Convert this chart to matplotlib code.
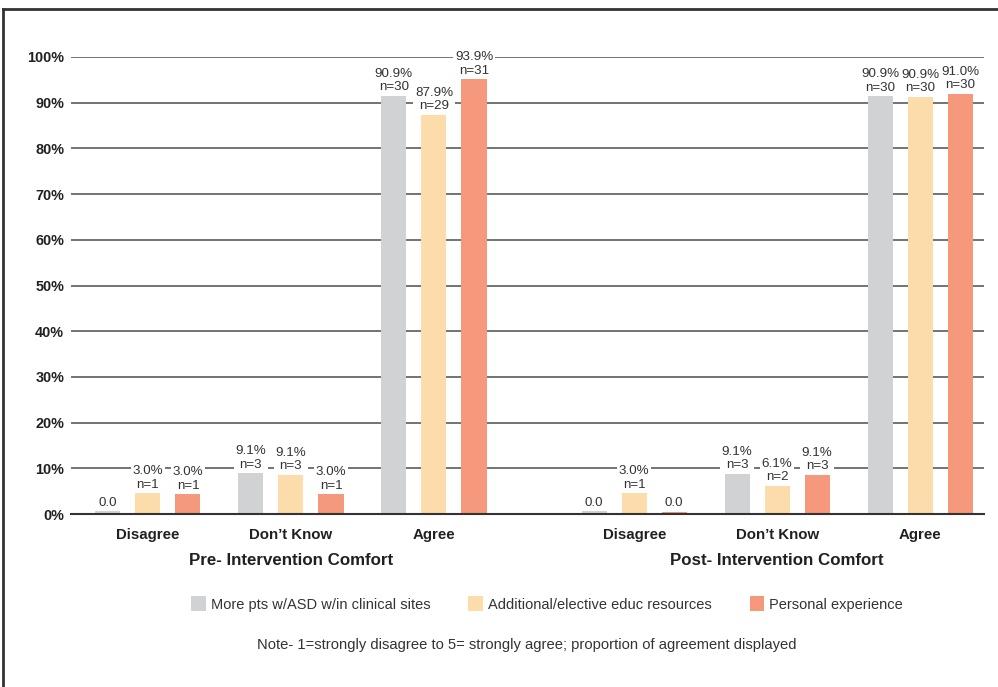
import matplotlib
matplotlib.use("Agg")
import matplotlib.pyplot as plt
from matplotlib.patches import Patch
from matplotlib.lines import Line2D

plt.rcParams['font.family'] = ['Liberation Sans', 'DejaVu Sans']

# ---- data ----
categories = ["Disagree", "Don\u2019t Know", "Agree"]
groups = ["Pre- Intervention Comfort", "Post- Intervention Comfort"]
series = ["More pts w/ASD w/in clinical sites", "Additional/elective educ resources", "Personal experience"]
colors = ["#D1D2D4", "#FDDCAB", "#F5987B"]

pre_gray = [0.6, 8.9, 91.5]
pre_peach = [4.5, 8.6, 87.3]
pre_salmon = [4.3, 4.3, 95.1]
post_gray = [0.6, 8.8, 91.4]
post_peach = [4.5, 6.2, 91.3]
post_salmon = [0.5, 8.6, 91.9]

pre_gray_lbl = ["0.0", "9.1%\nn=3", "90.9%\nn=30"]
pre_peach_lbl = ["3.0%\nn=1", "9.1%\nn=3", "87.9%\nn=29"]
pre_salmon_lbl = ["3.0%\nn=1", "3.0%\nn=1", "93.9%\nn=31"]
post_gray_lbl = ["0.0", "9.1%\nn=3", "90.9%\nn=30"]
post_peach_lbl = ["3.0%\nn=1", "6.1%\nn=2", "90.9%\nn=30"]
post_salmon_lbl = ["0.0", "9.1%\nn=3", "91.0%\nn=30"]

yticks = [0, 10, 20, 30, 40, 50, 60, 70, 80, 90, 100]
ytick_labels = [f"{t}%" for t in yticks]

W, H = 998, 687
fig = plt.figure(figsize=(W / 100, H / 100), dpi=100)

def px(x0, y0, x1, y1):
    return [x0 / W, 1 - y1 / H, (x1 - x0) / W, (y1 - y0) / H]

ax = fig.add_axes(px(71, 57, 984, 514))

group_pos = [[0, 1, 2], [3.4, 4.4, 5.4]]
offset = 0.28
width = 0.175
heights = [[pre_gray, pre_peach, pre_salmon], [post_gray, post_peach, post_salmon]]
labels = [[pre_gray_lbl, pre_peach_lbl, pre_salmon_lbl], [post_gray_lbl, post_peach_lbl, post_salmon_lbl]]

for gi in range(2):
    for si in range(3):
        xs = [p + (si - 1) * offset for p in group_pos[gi]]
        bars = ax.bar(xs, heights[gi][si], width=width, color=colors[si], zorder=3)
        for b, lab in zip(bars, labels[gi][si]):
            ax.text(b.get_x() + b.get_width() / 2, b.get_height() + 0.6, lab,
                    ha="center", va="bottom", fontsize=9.6, color="#333333",
                    linespacing=1.15, zorder=4, clip_on=False,
                    bbox=dict(boxstyle="square,pad=0.12", fc="white", ec="none"))

ax.set_xlim(-0.538, 5.846)
ax.set_ylim(0, 100)
ax.set_yticks(yticks)
ax.set_yticklabels(ytick_labels, fontsize=10.4, fontweight="bold", color="#231F20")
ax.tick_params(axis="y", length=0, pad=5)
for t in yticks[1:]:
    ax.axhline(t, color="#4D4D4D", lw=1.1, zorder=1)
for s in ["top", "right", "left"]:
    ax.spines[s].set_visible(False)
ax.spines["bottom"].set_color("#333333")
ax.spines["bottom"].set_linewidth(1.5)
ax.spines["bottom"].set_zorder(5)

allpos = group_pos[0] + group_pos[1]
ax.set_xticks(allpos)
ax.set_xticklabels(categories * 2, fontsize=10.8, fontweight="bold", color="#231F20")
ax.tick_params(axis="x", length=0, pad=10)

for gi in range(2):
    ax.text(group_pos[gi][1], -10.1, groups[gi], ha="center", va="center",
            fontsize=12.2, fontweight="bold", color="#231F20",
            transform=ax.transData, clip_on=False)

handles = [Patch(facecolor=c, edgecolor="none") for c in colors]
fig.legend(handles, series, loc="center", bbox_to_anchor=(547 / W, 1 - 604 / H),
           ncol=3, frameon=False, fontsize=10.5, handlelength=1.0, handleheight=1.15,
           handletextpad=0.35, columnspacing=2.6, labelcolor="#333333")

fig.text(527 / W, 1 - 645 / H,
         "Note- 1=strongly disagree to 5= strongly agree; proportion of agreement displayed",
         ha="center", va="center", fontsize=10.6, color="#333333")

# outer frame (top and left edges visible)
fig.add_artist(Line2D([3 / W, 1.0], [1 - 9 / H, 1 - 9 / H], transform=fig.transFigure, color="#333333", lw=2))
fig.add_artist(Line2D([3 / W, 3 / W], [0, 1 - 9 / H], transform=fig.transFigure, color="#333333", lw=2))

fig.savefig("out.png", dpi=100)
